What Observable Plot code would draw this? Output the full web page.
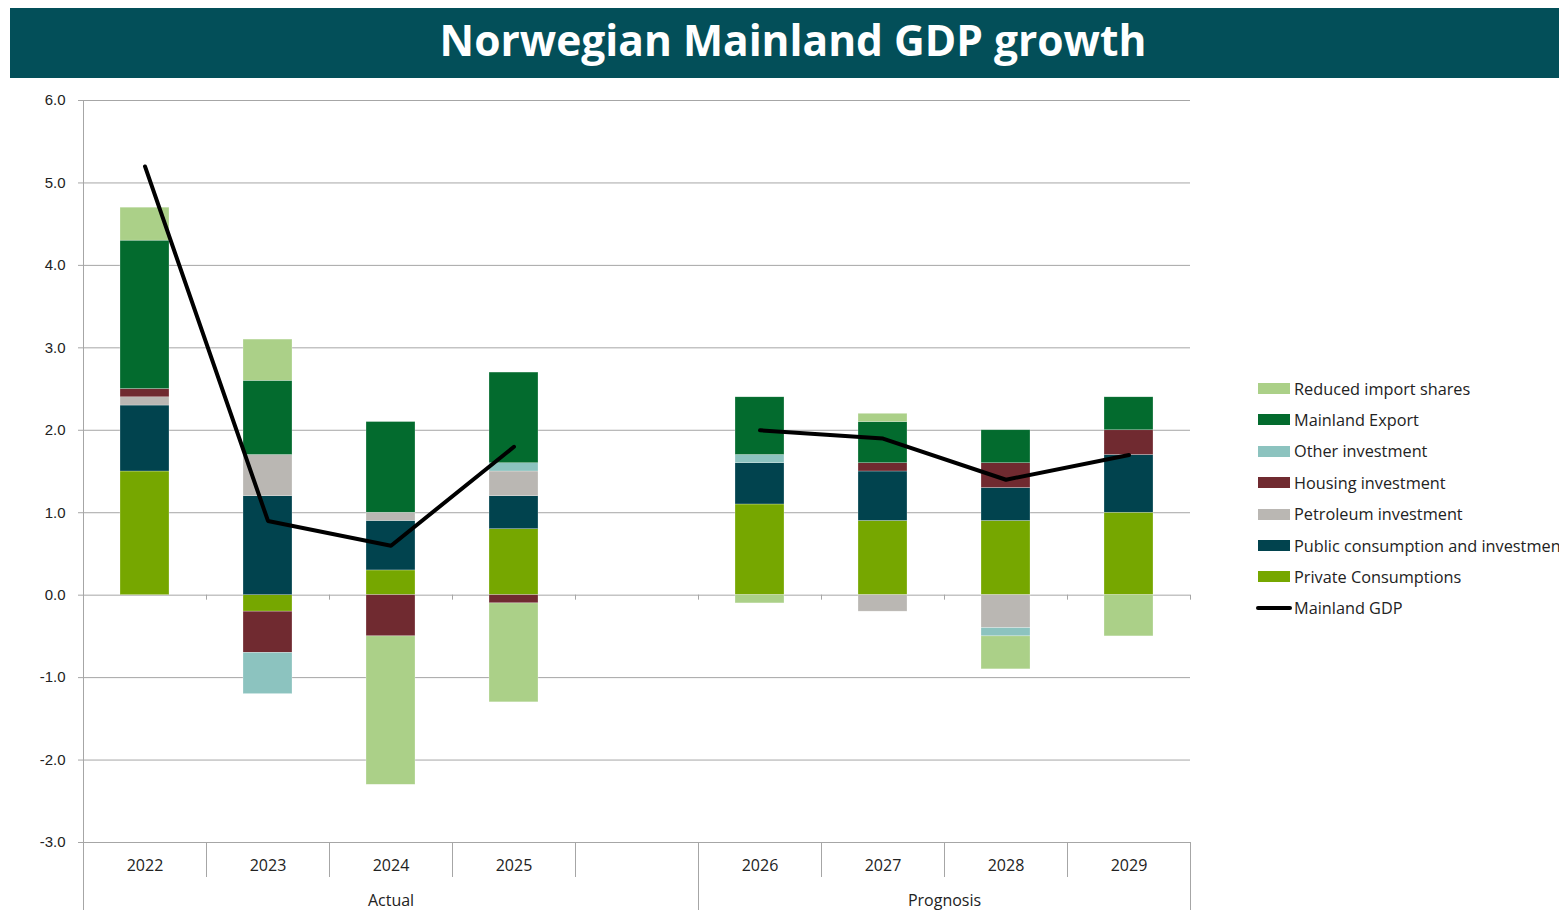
<!DOCTYPE html>
<html><head><meta charset="utf-8">
<script src="https://cdn.jsdelivr.net/npm/d3@7"></script>
<script src="https://cdn.jsdelivr.net/npm/@observablehq/plot@0.6"></script>
<style>
html,body{margin:0;padding:0;background:#fff;overflow:hidden;width:1559px;height:910px;}
#title{position:absolute;left:10px;top:8px;width:1549px;height:70px;background:#034f59;color:#fff;font:700 42.5px "Open Sans",sans-serif;line-height:64px;text-align:center;padding-left:17px;box-sizing:border-box;white-space:nowrap;}
#chart{position:absolute;left:0;top:78px;}
.item{position:absolute;left:1256px;height:20px;display:flex;align-items:center;font:400 16.3px "Open Sans",sans-serif;color:#222;white-space:nowrap;}
.sw{width:32px;height:11px;margin-left:2px;margin-right:4px;flex:none;}
.ln{width:36px;height:4px;margin-right:2px;background:#000;border-radius:2px;flex:none;}
</style></head><body>
<div id="title">Norwegian Mainland GDP growth</div>
<div id="chart"></div>
<div id="legend"></div>
<script>
// ---- data ----
const years   = ["2022","2023","2024","2025","","2026","2027","2028","2029"];
const periods = ["Actual","Actual","Actual","Actual","Actual","Prognosis","Prognosis","Prognosis","Prognosis"];
const seriesNames  = ["Private Consumptions","Public consumption and investment","Petroleum investment","Housing investment","Other investment","Mainland Export","Reduced import shares"];
const seriesColors = ["#76a700","#01434e","#bab7b3","#702a30","#8cc3bf","#036b2e","#abd088"];
const privateConsumptions = [1.5, -0.2, 0.3, 0.8, null, 1.1, 0.9, 0.9, 1.0];
const publicConsumption   = [0.8,  1.2, 0.6, 0.4, null, 0.5, 0.6, 0.4, 0.7];
const petroleumInvestment = [0.1,  0.5, 0.1, 0.3, null, 0.0, -0.2, -0.4, 0.0];
const housingInvestment   = [0.1, -0.5, -0.5, -0.1, null, 0.0, 0.1, 0.3, 0.3];
const otherInvestment     = [0.0, -0.5, 0.0, 0.1, null, 0.1, 0.0, -0.1, 0.0];
const mainlandExport      = [1.8,  0.9, 1.1, 1.1, null, 0.7, 0.5, 0.4, 0.4];
const reducedImportShares = [0.4,  0.5, -1.8, -1.2, null, -0.1, 0.1, -0.4, -0.5];
const mainlandGDP         = [5.2,  0.9, 0.6, 1.8, null, 2.0, 1.9, 1.4, 1.7];
const yTicks = [-3,-2,-1,0,1,2,3,4,5,6];
const lineName = "Mainland GDP";

// ---- derived tables ----
const seriesValues = [privateConsumptions, publicConsumption, petroleumInvestment, housingInvestment, otherInvestment, mainlandExport, reducedImportShares];
const rows = [];
seriesValues.forEach((vals, s) => vals.forEach((v, i) => {
  if (v != null && v !== 0) rows.push({i, series: seriesNames[s], value: v});
}));
const gdpRows = mainlandGDP.map((v, i) => ({c: i + 0.5, value: v, period: periods[i]})).filter(d => d.value != null);

const n = years.length;
const bounds = d3.range(0, n + 1);
const periodBounds = bounds.filter(b => b === 0 || b === n || periods[b] !== periods[b - 1]);
const yearBounds = bounds.filter(b => !periodBounds.includes(b));
const yearCenters = years.map((y, i) => i + 0.5).filter((c, i) => years[i] !== "");
const periodCenters = periodBounds.slice(0, -1).map((b, k) => (b + periodBounds[k + 1]) / 2);
const periodLabel = new Map(periodBounds.slice(0, -1).map((b, k) => [(b + periodBounds[k + 1]) / 2, periods[b]]));

const grid = "#a6a6a6";
const txt = "#222";

const chart = Plot.plot({
  width: 1559, height: 832,
  marginLeft: 83, marginRight: 369, marginTop: 22, marginBottom: 68,
  style: {fontFamily: '"Open Sans", sans-serif', fontSize: "15px", color: txt, background: "transparent", overflow: "visible"},
  x: {type: "linear", domain: [0, n]},
  y: {domain: [-3, 6]},
  color: {domain: seriesNames, range: seriesColors},
  marks: [
    Plot.ruleY(yTicks, {stroke: grid, strokeWidth: 1}),
    Plot.axisY(yTicks, {tickSize: 5, tickPadding: 13, tickFormat: d => d.toFixed(1), stroke: grid, fill: txt, fontSize: 15, fontFamily: '"Liberation Sans", Arial, sans-serif', label: null}),
    Plot.ruleX([0], {stroke: grid}),
    Plot.rectY(rows, {x: "i", interval: 1, y: "value", fill: "series", insetLeft: 37, insetRight: 37, stroke: "#fff", strokeWidth: 0.5, strokeOpacity: 0.5}),
    Plot.ruleX(bounds, {x: d => d, y1: 0, y2: 0, insetBottom: -5, stroke: grid}),
    Plot.line(gdpRows, {x: "c", y: "value", z: "period", stroke: "#000", strokeWidth: 4, strokeLinejoin: "round", strokeLinecap: "round"}),
    Plot.axisX(yearBounds, {tickSize: 35, tickFormat: () => "", stroke: grid, label: null}),
    Plot.axisX(periodBounds, {tickSize: 68, tickFormat: () => "", stroke: grid, label: null}),
    Plot.axisX(yearCenters, {tickSize: 0, tickPadding: 17, tickFormat: c => years[Math.floor(c)], fill: txt, fontSize: 16, label: null}),
    Plot.axisX(periodCenters, {tickSize: 0, tickPadding: 52, tickFormat: c => periodLabel.get(c), fill: txt, fontSize: 16, label: null})
  ]
});
document.getElementById("chart").appendChild(chart);

// ---- legend ----
const legend = document.getElementById("legend");
const items = seriesNames.map((s, k) => ({name: s, color: seriesColors[k]})).reverse();
items.push({name: lineName, line: true});
items.forEach((it, k) => {
  const div = document.createElement("div");
  div.className = "item";
  div.style.top = (388.5 + k * 31.4 - 10) + "px";
  const sw = document.createElement("span");
  if (it.line) { sw.className = "ln"; }
  else { sw.className = "sw"; sw.style.background = it.color; }
  div.appendChild(sw);
  div.appendChild(document.createTextNode(it.name));
  legend.appendChild(div);
});
</script>
</body></html>
